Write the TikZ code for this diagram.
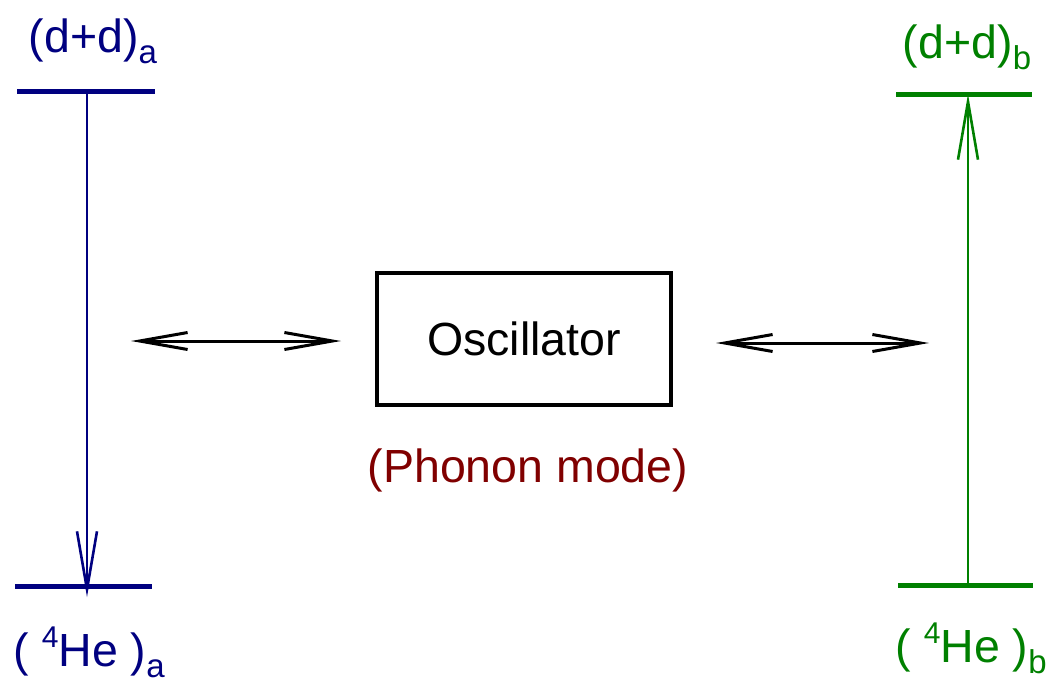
\documentclass[tikz,border=0pt]{standalone}
\usepackage{fontspec}
\setmainfont{Liberation Sans}
\usetikzlibrary{arrows.meta}
\definecolor{levA}{RGB}{0,0,128}
\definecolor{levB}{RGB}{0,128,0}
\definecolor{modecol}{RGB}{128,0,0}
\newcommand{\lvsub}[1]{\raisebox{-11pt}{\fontsize{33}{35}\selectfont #1}}
\newcommand{\lvsup}[1]{\raisebox{19pt}{\fontsize{30}{32}\selectfont #1}}
\begin{document}
\begin{tikzpicture}[x=1pt,y=-1pt,
  every node/.style={inner sep=0pt,font=\fontsize{46.5}{52}\selectfont},
  level/.style={line width=5pt},
  trans/.style={line width=2.6pt,-{Straight Barb[length=58pt,width=20pt,line width=2.6pt]}},
  couple/.style={line width=3pt,{Straight Barb[length=48pt,width=17pt,line width=3pt]}-{Straight Barb[length=48pt,width=17pt,line width=3pt]}},
  oscbox/.style={draw,line width=4pt,minimum width=294pt,minimum height=132pt}]
\useasboundingbox (0,0) rectangle (1049,683);

% energy levels of system a
\coordinate (aTopL) at (17,91);
\coordinate (aTopR) at (155,91);
\coordinate (aBotL) at (15,586);
\coordinate (aBotR) at (152,586);
\coordinate (aFrom) at (87,91);
\coordinate (aTo) at (87,597);
\draw[levA,level] (aTopL) -- (aTopR);
\draw[levA,level] (aBotL) -- (aBotR);
\draw[levA,trans] (aFrom) -- (aTo);
\node[levA,anchor=base] (aUp) at (93,52) {(d+d)\lvsub{a}};
\node[levA,anchor=base] (aDown) at (89,666) {( \lvsup{4}He )\lvsub{a}};

% energy levels of system b
\coordinate (bTopL) at (896,94);
\coordinate (bTopR) at (1032,94);
\coordinate (bBotL) at (898,585);
\coordinate (bBotR) at (1033,585);
\coordinate (bFrom) at (968,585);
\coordinate (bTo) at (968,94);
\draw[levB,level] (bTopL) -- (bTopR);
\draw[levB,level] (bBotL) -- (bBotR);
\draw[levB,trans] (bFrom) -- (bTo);
\node[levB,anchor=base] (bUp) at (967,58) {(d+d)\lvsub{b}};
\node[levB,anchor=base] (bDown) at (971,662) {( \lvsup{4}He )\lvsub{b}};

% oscillator coupling both systems
\node[oscbox] (osc) at (524,339) {Oscillator};
\node[modecol] (mode) at (528,470) {(Phonon mode)};
\coordinate (cL1) at (131,341);
\coordinate (cL2) at (341,341);
\coordinate (cR1) at (716,343);
\coordinate (cR2) at (929,343);
\draw[couple] (cL1) -- (cL2);
\draw[couple] (cR1) -- (cR2);
\end{tikzpicture}
\end{document}
